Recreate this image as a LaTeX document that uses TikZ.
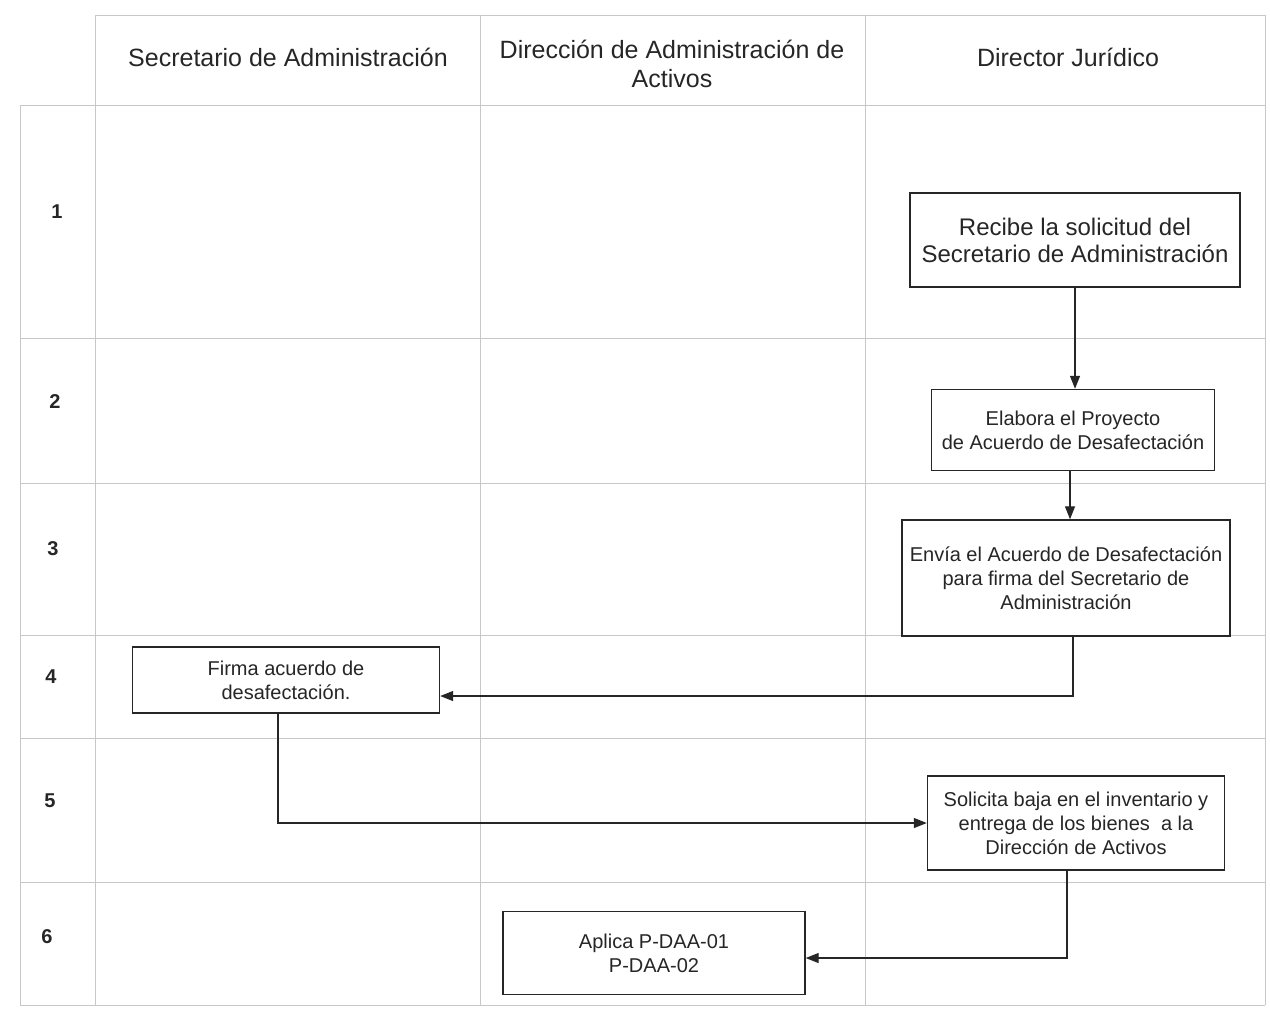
\documentclass[tikz,border=0pt]{standalone}
\usepackage{fontspec}
\setmainfont{Liberation Sans}
\usetikzlibrary{arrows.meta}
\begin{document}
\begin{tikzpicture}[x=1pt,y=-1pt,
  grid/.style={draw=black!22, line width=0.8pt},
  act/.style={draw=black!85, line width=1.4pt, fill=white, align=center,
    inner sep=0pt, text=black!85, font=\fontsize{20}{24}\selectfont},
  lane/.style={align=center, text=black!85, font=\fontsize{25}{29}\selectfont},
  num/.style={font=\fontsize{20}{24}\selectfont\bfseries, text=black!85},
  flow/.style={draw=black!85, line width=1.3pt, -{Triangle[length=13pt,width=10pt]}}]
\useasboundingbox (0,0) rectangle (1270,1020);

% swimlane grid
\draw[grid] (95,15) -- (1265,15);
\draw[grid] (20,105) -- (1265,105);
\foreach \y in {338,483,635,738,882,1005}
  \draw[grid] (20,\y) -- (1265,\y);
\foreach \x in {95,480,865,1265}
  \draw[grid] (\x,15) -- (\x,1005);
\draw[grid] (20,105) -- (20,1005);

% lane headers
\node[lane] (h1) at (288,57) {Secretario de Administración};
\node[lane] (h2) at (672,64) {Dirección de Administración de\\Activos};
\node[lane] (h3) at (1068,57) {Director Jurídico};

% step numbers
\node[num] (n1) at (57,212) {1};
\node[num] (n2) at (55,402) {2};
\node[num] (n3) at (53,549) {3};
\node[num] (n4) at (51,677) {4};
\node[num] (n5) at (50,801) {5};
\node[num] (n6) at (47,937) {6};

% activities
\node[act, minimum width=330, minimum height=94, font=\fontsize{24}{27}\selectfont]
  (recibe) at (1075,240) {Recibe la solicitud del\\Secretario de Administración};
\node[act, minimum width=283, minimum height=81]
  (elabora) at (1073,430) {Elabora el Proyecto\\de Acuerdo de Desafectación};
\node[act, minimum width=328, minimum height=116]
  (envia) at (1066,578) {Envía el Acuerdo de Desafectación\\para firma del Secretario de\\Administración};
\node[act, minimum width=307, minimum height=66]
  (firma) at (286,680) {Firma acuerdo de\\desafectación.};
\node[act, minimum width=297, minimum height=94]
  (solicita) at (1076,823) {Solicita baja en el inventario y\\entrega de los bienes\ \ a la\\Dirección de Activos};
\node[act, minimum width=302, minimum height=83]
  (aplica) at (654,953) {Aplica P-DAA-01\\P-DAA-02};

% flow
\draw[flow] (recibe.south) -- (recibe.south |- elabora.north);
\draw[flow] ([xshift=-3]elabora.south) -- ([xshift=-3]elabora.south |- envia.north);
\draw[flow] ([xshift=7]envia.south) |- ([yshift=-16]firma.east);
\draw[flow] ([xshift=-8]firma.south) |- (solicita.west);
\draw[flow] ([xshift=-9]solicita.south) |- ([yshift=-5]aplica.east);
\end{tikzpicture}
\end{document}
